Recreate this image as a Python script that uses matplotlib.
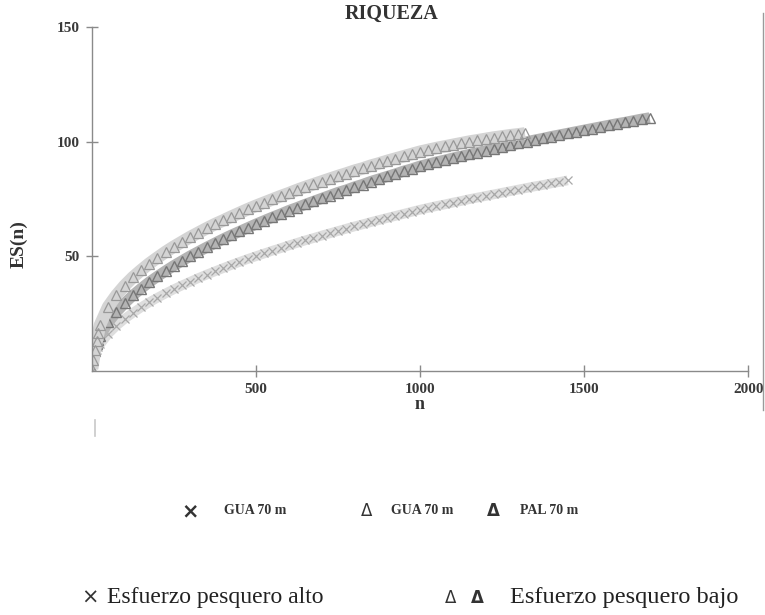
import matplotlib
matplotlib.use("Agg")
import matplotlib.pyplot as plt
from matplotlib.lines import Line2D

# rarefaction curves ES(n), one point every 25 individuals (plus the first few)
n_gua_bajo = [1, 5, 10, 15, 20, 25, 50, 75, 100, 125, 150, 175, 200, 225, 250, 275, 300,
              325, 350, 375, 400, 425, 450, 475, 500, 525, 550, 575, 600, 625, 650, 675,
              700, 725, 750, 775, 800, 825, 850, 875, 900, 925, 950, 975, 1000, 1025,
              1050, 1075, 1100, 1125, 1150, 1175, 1200, 1225, 1250, 1275, 1300, 1320]
es_gua_bajo = [1, 4.8, 9.2, 13.0, 16.5, 20.0, 28.0, 33.0, 37.2, 40.8, 43.9, 46.8, 49.4,
               51.9, 54.2, 56.3, 58.4, 60.3, 62.2, 64.0, 65.6, 67.3, 68.9, 70.5, 72.0,
               73.4, 74.8, 76.2, 77.5, 78.9, 80.2, 81.4, 82.6, 83.8, 85.0, 86.1, 87.3,
               88.3, 89.5, 90.5, 91.6, 92.6, 93.6, 94.6, 95.6, 96.4, 97.2, 97.9, 98.6,
               99.3, 100.0, 100.6, 101.2, 101.8, 102.3, 102.8, 103.2, 103.6]

n_pal_bajo = [1, 5, 10, 15, 20, 25, 50, 75, 100, 125, 150, 175, 200, 225, 250, 275, 300,
              325, 350, 375, 400, 425, 450, 475, 500, 525, 550, 575, 600, 625, 650, 675,
              700, 725, 750, 775, 800, 825, 850, 875, 900, 925, 950, 975, 1000, 1025,
              1050, 1075, 1100, 1125, 1150, 1175, 1200, 1225, 1250, 1275, 1300, 1325,
              1350, 1375, 1400, 1425, 1450, 1475, 1500, 1525, 1550, 1575, 1600, 1625,
              1650, 1675, 1700]
es_pal_bajo = [1, 4.7, 8.8, 11.5, 13.6, 15.2, 21.2, 25.7, 29.5, 32.9, 35.9, 38.7, 41.2,
               43.6, 45.9, 48.0, 50.1, 52.0, 53.9, 55.7, 57.5, 59.2, 60.8, 62.4, 64.0,
               65.5, 67.0, 68.4, 69.9, 71.2, 72.6, 73.9, 75.2, 76.5, 77.8, 78.9, 80.2,
               81.3, 82.6, 83.7, 84.8, 85.9, 87.1, 88.1, 89.3, 90.2, 91.1, 91.9, 92.8,
               93.6, 94.4, 95.2, 96.1, 96.8, 97.6, 98.4, 99.2, 99.9, 100.7, 101.4, 102.2,
               102.9, 103.6, 104.3, 105.0, 105.7, 106.4, 107.1, 107.8, 108.4, 109.1,
               109.8, 110.4]

n_gua_alto = [1, 5, 10, 15, 20, 25, 50, 75, 100, 125, 150, 175, 200, 225, 250, 275, 300,
              325, 350, 375, 400, 425, 450, 475, 500, 525, 550, 575, 600, 625, 650, 675,
              700, 725, 750, 775, 800, 825, 850, 875, 900, 925, 950, 975, 1000, 1025,
              1050, 1075, 1100, 1125, 1150, 1175, 1200, 1225, 1250, 1275, 1300, 1325,
              1350, 1375, 1400, 1425, 1450]
es_gua_alto = [1, 4.5, 7.4, 9.0, 10.3, 11.5, 16.2, 19.7, 22.7, 25.3, 27.7, 29.9, 31.9,
               33.8, 35.6, 37.3, 38.9, 40.5, 42.0, 43.4, 44.8, 46.2, 47.5, 48.8, 50.0,
               51.2, 52.4, 53.5, 54.7, 55.8, 56.9, 57.9, 59.0, 60.0, 61.0, 62.0, 63.0,
               63.9, 64.9, 65.8, 66.7, 67.6, 68.5, 69.4, 70.3, 71.1, 71.9, 72.6, 73.4,
               74.1, 74.9, 75.6, 76.3, 77.0, 77.7, 78.4, 79.1, 79.8, 80.5, 81.1, 81.8,
               82.4, 83.1]

xticks = [500, 1000, 1500, 2000]
yticks = [50, 100, 150]

serif = "Liberation Serif"
axcol = "#8a8a8a"
txt = "#333333"

fig = plt.figure(figsize=(7.65, 6.15), dpi=100)
ax = fig.add_axes([0.120, 0.397, 0.858, 0.559])

# each curve: a soft band under densely packed markers
ax.plot(n_gua_alto, es_gua_alto, color="#dedede", lw=7, solid_capstyle="butt")
ax.plot(n_gua_alto, es_gua_alto, ls="none", marker="x", ms=5.5, mew=0.9,
        color="#a8a8a8")
ax.plot(n_pal_bajo, es_pal_bajo, color="#b4b4b4", lw=8, solid_capstyle="butt")
ax.plot(n_pal_bajo, es_pal_bajo, ls="none", marker="^", ms=6.5, mew=1.0,
        mfc="none", mec="#777777")
ax.plot(n_gua_bajo, es_gua_bajo, color="#d4d4d4", lw=9, solid_capstyle="butt")
ax.plot(n_gua_bajo, es_gua_bajo, ls="none", marker="^", ms=7, mew=0.9,
        mfc="none", mec="#999999")

ax.set_xlim(0, 2000)
ax.set_ylim(0, 150)
ax.set_xticks(xticks)
ax.set_yticks(yticks)
for s in ["top", "right"]:
    ax.spines[s].set_visible(False)
for s in ["left", "bottom"]:
    ax.spines[s].set_color(axcol)
    ax.spines[s].set_linewidth(1.0)
ax.tick_params(direction="inout", length=9, width=1.0, color=axcol,
               labelcolor="#3a3a3a", pad=4)
for lab in ax.get_xticklabels() + ax.get_yticklabels():
    lab.set_fontfamily(serif)
    lab.set_fontweight("bold")
    lab.set_fontsize(11)

ax.set_xlabel("n", fontfamily=serif, fontweight="bold", fontsize=13,
              color=txt, labelpad=0)
ax.set_ylabel("ES(n)", fontfamily=serif, fontweight="bold", fontsize=14,
              color=txt)
ax.yaxis.set_label_coords(-0.098, 0.37)
fig.text(0.512, 0.978, "RIQUEZA", ha="center", va="center", fontfamily=serif,
         fontweight="bold", fontsize=14.5, color=txt)

# frame line on the right and a small stray mark under the axis
fig.add_artist(Line2D([0.997, 0.997], [1 - 13 / 615, 1 - 410 / 615],
                      color="#9a9a9a", lw=1.0))
fig.add_artist(Line2D([95 / 765, 95 / 765], [1 - 420 / 615, 1 - 436 / 615],
                      color="#c8c8c8", lw=1.2))

# key rows drawn below the plot
row1 = 1 - 511 / 615
fig.text(190 / 765, row1, "×", ha="center", va="center", fontsize=15,
         fontweight="bold", color=txt)
fig.text(224 / 765, row1, "GUA 70 m", ha="left", va="center", fontfamily=serif,
         fontweight="bold", fontsize=10, color=txt)
fig.text(367 / 765, row1, "Δ", ha="center", va="center", fontsize=12, color=txt)
fig.text(391 / 765, row1, "GUA 70 m", ha="left", va="center", fontfamily=serif,
         fontweight="bold", fontsize=10, color=txt)
fig.text(493 / 765, row1, "Δ", ha="center", va="center", fontsize=12,
         fontweight="bold", color=txt)
fig.text(520 / 765, row1, "PAL 70 m", ha="left", va="center", fontfamily=serif,
         fontweight="bold", fontsize=10, color=txt)

row2 = 1 - 598 / 615
fig.text(90 / 765, row2, "×", ha="center", va="center", fontsize=15, color=txt)
fig.text(107 / 765, row2, "Esfuerzo pesquero alto", ha="left", va="center",
         fontfamily=serif, fontsize=17, color="#222222")
fig.text(451 / 765, row2, "Δ", ha="center", va="center", fontsize=12, color=txt)
fig.text(477 / 765, row2, "Δ", ha="center", va="center", fontsize=12,
         fontweight="bold", color=txt)
fig.text(510 / 765, row2, "Esfuerzo pesquero bajo", ha="left", va="center",
         fontfamily=serif, fontsize=17.5, color="#222222")

fig.savefig("out.png", dpi=100)
